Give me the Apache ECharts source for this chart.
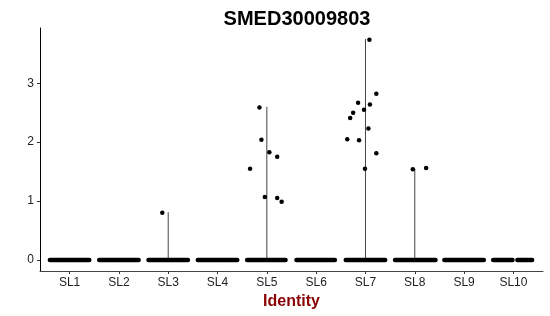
<!DOCTYPE html>
<html>
<head>
<meta charset="utf-8">
<script src="https://cdn.jsdelivr.net/npm/echarts@6/dist/echarts.min.js"></script>
<style>
  html, body { margin: 0; padding: 0; background: #fff; }
  #chart { width: 550px; height: 316px; }
</style>
</head>
<body>
<div id="chart"></div>
<script>
// categories on the x axis
const categories = ["SL1", "SL2", "SL3", "SL4", "SL5", "SL6", "SL7", "SL8", "SL9", "SL10"];
const yTicks = [0, 1, 2, 3];

// cells with zero expression: jitter extent around each category [cat, from, to]
const zeroBands = [
  [1, -0.40, 0.40], [2, -0.40, 0.40], [3, -0.40, 0.40], [4, -0.40, 0.40],
  [5, -0.40, 0.38], [6, -0.40, 0.38], [7, -0.40, 0.40], [8, -0.40, 0.42],
  [9, -0.40, 0.40], [10, -0.41, -0.02], [10, 0.08, 0.38]
];

// violin extents (very thin, drawn as lines): category and max value
const violinCats = [3, 5, 7, 8];
const violinTops = [0.81, 2.6, 3.75, 1.55];

// expressing cells: [jitter offset, value]
const sl3Points = [[-0.12, 0.80]];
const sl5Points = [
  [-0.15, 2.59], [-0.11, 2.04], [0.05, 1.83], [0.21, 1.75],
  [-0.34, 1.55], [-0.04, 1.07], [0.21, 1.05], [0.30, 0.99]
];
const sl7Points = [
  [0.08, 3.74], [0.22, 2.82], [-0.15, 2.67], [0.09, 2.64], [-0.03, 2.55],
  [-0.25, 2.50], [-0.31, 2.41], [0.06, 2.23], [-0.37, 2.05], [-0.13, 2.03],
  [0.22, 1.81], [-0.01, 1.55]
];
const sl8Points = [[-0.04, 1.54], [0.23, 1.56]];

const pointData = [];
[[3, sl3Points], [5, sl5Points], [7, sl7Points], [8, sl8Points]].forEach(([c, pts]) => {
  pts.forEach((p) => pointData.push([c + p[0], p[1]]));
});

const chart = echarts.init(document.getElementById("chart"));

const option = {
  animation: false,
  title: {
    text: "SMED30009803",
    left: 292,
    top: 4,
    textAlign: "center",
    textStyle: { fontFamily: "Liberation Sans", fontWeight: "bold", fontSize: 20, color: "#000" },
  },
  grid: { left: 40, right: 7, top: 28, bottom: 45 },
  xAxis: {
    type: "value",
    min: 0.4,
    max: 10.6,
    name: "Identity",
    nameLocation: "middle",
    nameGap: 18,
    nameTextStyle: { fontFamily: "Liberation Sans", fontWeight: "bold", fontSize: 16, color: "#8B0000" },
    axisLine: { onZero: false, lineStyle: { color: "#444", width: 1 } },
    axisTick: { customValues: [1, 2, 3, 4, 5, 6, 7, 8, 9, 10], length: 3, lineStyle: { color: "#333" } },
    axisLabel: {
      customValues: [1, 2, 3, 4, 5, 6, 7, 8, 9, 10],
      formatter: (v) => categories[Math.round(v) - 1],
      margin: 6,
      fontFamily: "Liberation Sans",
      fontSize: 12,
      color: "#222",
    },
    splitLine: { show: false },
  },
  yAxis: {
    type: "value",
    min: -0.1875,
    max: 3.9375,
    axisLine: { show: true, onZero: false, lineStyle: { color: "#000", width: 1 } },
    axisTick: { show: true, customValues: yTicks, length: 3, lineStyle: { color: "#333" } },
    axisLabel: {
      customValues: yTicks,
      margin: 6,
      fontFamily: "Liberation Sans",
      fontSize: 12,
      color: "#222",
    },
    splitLine: { show: false },
  },
  series: [
    {
      type: "custom",
      name: "violin",
      data: violinCats.map((c, i) => [c, violinTops[i]]),
      renderItem: (params, api) => {
        const p0 = api.coord([api.value(0), 0]);
        const p1 = api.coord([api.value(0), api.value(1)]);
        return {
          type: "line",
          shape: { x1: p0[0], y1: p0[1], x2: p1[0], y2: p1[1] },
          style: { stroke: "#444", lineWidth: 1 },
        };
      },
    },
    {
      type: "custom",
      name: "zeros",
      data: zeroBands,
      renderItem: (params, api) => {
        const c = api.value(0);
        const p0 = api.coord([c + api.value(1), 0]);
        const p1 = api.coord([c + api.value(2), 0]);
        return {
          type: "line",
          shape: { x1: p0[0], y1: p0[1], x2: p1[0], y2: p1[1] },
          style: { stroke: "#000", lineWidth: 4.5, lineCap: "round" },
        };
      },
    },
    {
      type: "scatter",
      name: "cells",
      data: pointData,
      symbolSize: 4.5,
      itemStyle: { color: "#000", opacity: 1 },
    },
  ],
};

chart.setOption(option);
</script>
</body>
</html>
